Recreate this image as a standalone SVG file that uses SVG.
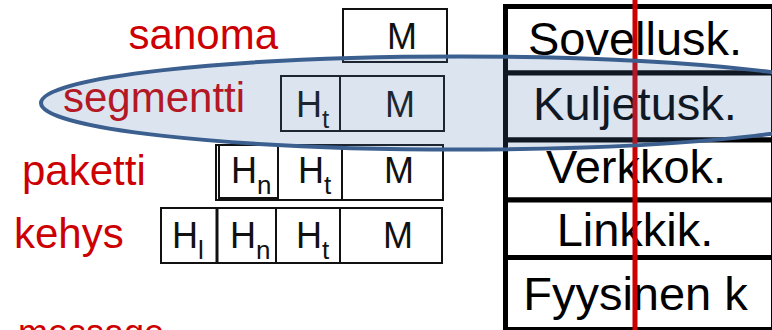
<svg xmlns="http://www.w3.org/2000/svg" width="772" height="330" viewBox="0 0 772 330">
  <style>
    .lbl { font-family: "Liberation Sans", Arial, sans-serif; font-size: 42px; fill: #cc0000; }
    .cell { fill: #ffffff; stroke: #111111; stroke-width: 2; }
    .hdr { font-family: "Liberation Sans", Arial, sans-serif; font-size: 36px; fill: #111111; }
    .sub { font-size: 26px; }
    .layer { fill: #ffffff; stroke: #000000; stroke-width: 5; }
    .ltxt { font-family: "Liberation Sans", Arial, sans-serif; font-size: 47px; fill: #000000; text-anchor: middle; }
  </style>

  <!-- PDU labels -->
  <g id="labels">
    <text class="lbl" x="278" y="49" text-anchor="end">sanoma</text>
    <text class="lbl" x="63" y="112">segmentti</text>
    <text class="lbl" x="22" y="185">paketti</text>
    <text class="lbl" x="14" y="248">kehys</text>
    <text class="lbl" x="18" y="345" style="font-size:36px">message</text>
  </g>

  <!-- application message -->
  <g id="pdu-sanoma">
    <rect class="cell" x="343" y="9" width="104" height="53"/>
    <text class="hdr" x="402" y="49" text-anchor="middle">M</text>
  </g>

  <!-- transport segment -->
  <g id="pdu-segmentti">
    <rect class="cell" x="281" y="76" width="59" height="55"/>
    <rect class="cell" x="340" y="76" width="104" height="55"/>
    <text class="hdr" x="296" y="117">H<tspan class="sub" dy="11">t</tspan></text>
    <text class="hdr" x="400" y="117" text-anchor="middle">M</text>
  </g>

  <!-- network packet -->
  <g id="pdu-paketti">
    <rect class="cell" x="216" y="145" width="227" height="55"/>
    <rect class="cell" x="219" y="145" width="59" height="53"/>
    <line x1="342" y1="145" x2="342" y2="200" stroke="#111111" stroke-width="2"/>
    <text class="hdr" x="231" y="183">H<tspan class="sub" dy="11">n</tspan></text>
    <text class="hdr" x="298" y="183">H<tspan class="sub" dy="11">t</tspan></text>
    <text class="hdr" x="399" y="183" text-anchor="middle">M</text>
  </g>

  <!-- link frame -->
  <g id="pdu-kehys">
    <rect class="cell" x="161" y="208" width="281" height="55"/>
    <line x1="217" y1="208" x2="217" y2="263" stroke="#111111" stroke-width="3"/>
    <line x1="276" y1="208" x2="276" y2="263" stroke="#111111" stroke-width="2"/>
    <line x1="340" y1="208" x2="340" y2="263" stroke="#111111" stroke-width="2"/>
    <text class="hdr" x="172" y="248">H<tspan class="sub" dy="11">l</tspan></text>
    <text class="hdr" x="230" y="248">H<tspan class="sub" dy="11">n</tspan></text>
    <text class="hdr" x="296" y="248">H<tspan class="sub" dy="11">t</tspan></text>
    <text class="hdr" x="398" y="248" text-anchor="middle">M</text>
  </g>

  <!-- protocol stack -->
  <g id="layer-sovellus">
    <rect class="layer" x="505.5" y="6.5" width="268" height="66.5"/>
    <text class="ltxt" x="635" y="55">Sovellusk.</text>
  </g>
  <g id="layer-kuljetus">
    <rect class="layer" x="505.5" y="73" width="268" height="67"/>
    <text class="ltxt" x="635" y="120">Kuljetusk.</text>
  </g>
  <g id="layer-verkko">
    <rect class="layer" x="505.5" y="140" width="268" height="60"/>
    <text class="ltxt" x="636" y="183">Verkkok.</text>
  </g>
  <g id="layer-linkki">
    <rect class="layer" x="505.5" y="200" width="268" height="57.5"/>
    <text class="ltxt" x="635" y="246">Linkkik.</text>
  </g>
  <g id="layer-fyysinen">
    <rect class="layer" x="505.5" y="257.5" width="268" height="72"/>
    <text class="ltxt" x="635.5" y="310">Fyysinen k</text>
  </g>

  <!-- connectors: vertical flow line and highlight -->
  <g id="connectors">
    <line x1="635" y1="0" x2="635" y2="330" stroke="#cc0000" stroke-width="5"/>
    <ellipse cx="459" cy="103" rx="418" ry="46.5" fill="#5078b4" fill-opacity="0.2" stroke="#3b5f8e" stroke-width="4"/>
  </g>
</svg>
